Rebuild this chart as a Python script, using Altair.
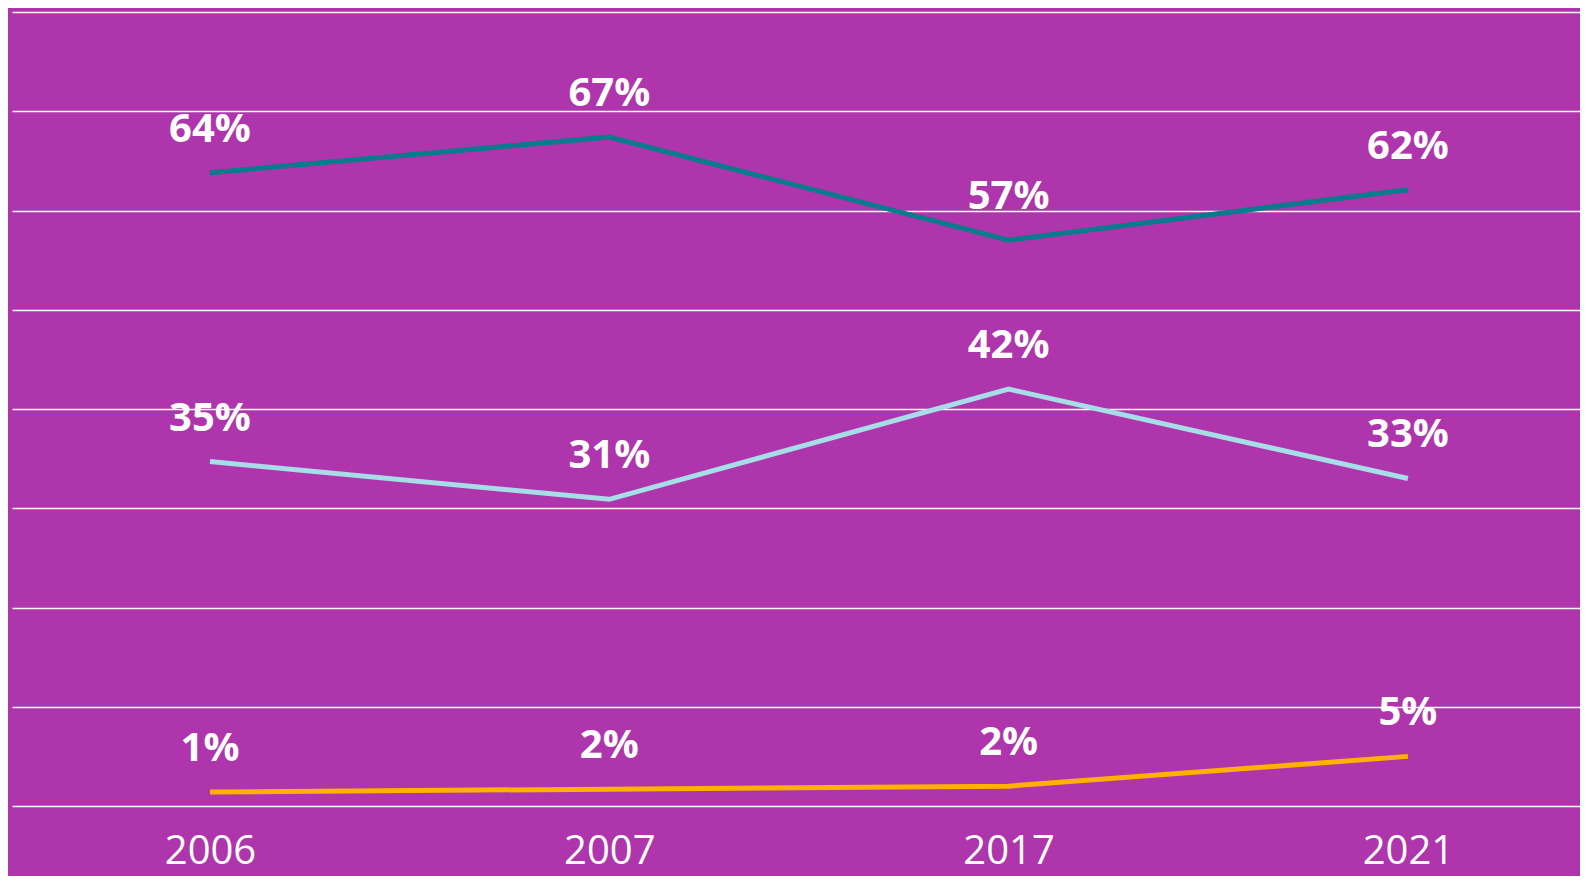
import altair as alt
import pandas as pd

years = ["2006", "2007", "2017", "2021"]
series_names = ["Series 1", "Series 2", "Series 3"]
series1_values = [63.8, 67.4, 57.0, 62.1]
series2_values = [34.7, 30.9, 42.0, 33.0]
series3_values = [1.4, 1.7, 2.0, 5.0]
series_colors = ["#087C8C", "#A7DDE7", "#FFB000"]
y_ticks = [0, 10, 20, 30, 40, 50, 60, 70, 80]

rows = []
for name, vals in zip(series_names, [series1_values, series2_values, series3_values]):
    for yr, v in zip(years, vals):
        rows.append({"year": yr, "series": name, "value": v})
df = pd.DataFrame(rows)

bg = "#AE35AC"
font = "Open Sans"

x_enc = alt.X(
    "year:O",
    sort=years,
    scale=alt.Scale(type="point", padding=0.4634, align=0.535),
    axis=alt.Axis(
        title=None, domain=False, ticks=False, grid=False,
        labelFont=font, labelFontSize=40, labelColor="white",
        labelAngle=0, labelBaseline="alphabetic", labelPadding=57,
    ),
)
y_enc = alt.Y(
    "value:Q",
    scale=alt.Scale(domain=[0, 80], nice=False, zero=True),
    axis=alt.Axis(
        title=None, domain=False, ticks=False, labels=False,
        values=y_ticks, grid=True, gridColor="white", gridWidth=1.6, gridOpacity=1,
    ),
)
color_enc = alt.Color(
    "series:N",
    scale=alt.Scale(domain=series_names, range=series_colors),
    legend=None,
)

base = alt.Chart(df)

lines = base.mark_line(strokeWidth=5, strokeCap="butt").encode(
    x=x_enc, y=y_enc, color=color_enc, detail="series:N"
)

labels = base.transform_calculate(
    label="format(datum.value, '.0f') + '%'"
).mark_text(
    font=font, fontSize=40, fontWeight="bold", color="white",
    baseline="alphabetic", align="center", dy=-31,
).encode(
    x=alt.X("year:O", sort=years),
    y=alt.Y("value:Q"),
    text="label:N",
)

chart = alt.layer(lines, labels).properties(
    width=1568,
    height=794,
    padding={"left": 4, "top": 4, "right": 0, "bottom": 70},
    autosize=alt.AutoSizeParams(type="none"),
).configure(
    background=bg,
).configure_view(
    stroke=None,
)

chart.save("out.html", embed_options={"renderer": "svg", "actions": False})
